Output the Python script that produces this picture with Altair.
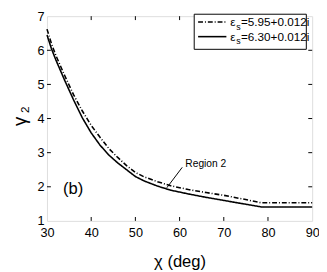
import altair as alt
import pandas as pd

chi = [30, 31, 32, 34, 36, 38, 40, 42, 44, 46, 48, 50, 52, 55, 58, 62, 66, 70, 74, 78.5, 90]
g_solid = [6.45, 6.05, 5.72, 5.12, 4.55, 4.02, 3.58, 3.22, 2.93, 2.70, 2.50, 2.30, 2.17, 2.02, 1.90, 1.79, 1.69, 1.60, 1.51, 1.41, 1.41]
g_dash = [6.62, 6.20, 5.85, 5.26, 4.70, 4.22, 3.80, 3.45, 3.12, 2.86, 2.62, 2.42, 2.29, 2.15, 2.03, 1.92, 1.83, 1.75, 1.65, 1.53, 1.53]
x_ticks = [30, 40, 50, 60, 70, 80, 90]
y_ticks = [1, 2, 3, 4, 5, 6, 7]
series_names = ["5.95+0.012i", "6.30+0.012i"]

FONT = "Liberation Sans"
W, H = 272, 210

rows = []
for c, a, b in zip(chi, g_dash, g_solid):
    rows.append({"chi": c, "g": a, "s": series_names[0]})
    rows.append({"chi": c, "g": b, "s": series_names[1]})
df = pd.DataFrame(rows)

xs = alt.Scale(domain=[30, 90], nice=False, zero=False)
ys = alt.Scale(domain=[1, 7], nice=False, zero=False)
xax = alt.Axis(values=x_ticks, title="χ (deg)", ticks=False, domain=False,
               grid=False, labelFontSize=13, labelFont=FONT, labelColor="black",
               labelPadding=6, labelOverlap=False, titleFont=FONT, titleFontSize=17,
               titleFontWeight="normal", titleColor="black", titlePadding=15,
               labelFlush=False)
yax = alt.Axis(values=y_ticks, title=None, ticks=False, domain=False,
               grid=False, labelFontSize=13, labelFont=FONT, labelColor="black",
               labelPadding=3, labelOverlap=False, labelFlush=False)
XA = dict(scale=xs, axis=xax, title="χ (deg)")
YA = dict(scale=ys, axis=yax, title=None)

lines = alt.Chart(df).mark_line(color="black", strokeWidth=1.6).encode(
    x=alt.X("chi:Q", **XA),
    y=alt.Y("g:Q", **YA),
    strokeDash=alt.StrokeDash("s:N", scale=alt.Scale(domain=series_names, range=[[5, 2, 1, 2], [1, 0]]),
                              legend=None),
    detail="s:N",
)

# inward ticks
xt = pd.DataFrame({"v": x_ticks[1:-1]})
yt = pd.DataFrame({"v": y_ticks[1:-1]})
tb = alt.Chart(xt).mark_rule(color="black", strokeWidth=1).encode(x=alt.X("v:Q", **XA), y=alt.value(H), y2=alt.value(H - 4))
tt = alt.Chart(xt).mark_rule(color="black", strokeWidth=1).encode(x=alt.X("v:Q", **XA), y=alt.value(0), y2=alt.value(4))
tl = alt.Chart(yt).mark_rule(color="black", strokeWidth=1).encode(y=alt.Y("v:Q", **YA), x=alt.value(0), x2=alt.value(4))
tr = alt.Chart(yt).mark_rule(color="black", strokeWidth=1).encode(y=alt.Y("v:Q", **YA), x=alt.value(W), x2=alt.value(W - 4))

# annotations
ann = pd.DataFrame({"chi": [61.3], "g": [2.68], "t": ["Region 2"]})
region = alt.Chart(ann).mark_text(align="left", baseline="middle", font=FONT, fontSize=10.5, color="black").encode(
    x=alt.X("chi:Q", **XA), y=alt.Y("g:Q", **YA), text="t:N")
arr = pd.DataFrame({"x1": [60.6], "y1": [2.57], "x2": [57.1], "y2": [1.97]})
arrow = alt.Chart(arr).mark_rule(color="black", strokeWidth=1).encode(
    x=alt.X("x1:Q", **XA), y=alt.Y("y1:Q", **YA), x2="x2:Q", y2="y2:Q")
lab = pd.DataFrame({"chi": [33.6], "g": [1.93], "t": ["(b)"]})
blab = alt.Chart(lab).mark_text(align="left", baseline="middle", font=FONT, fontSize=17, color="black").encode(
    x=alt.X("chi:Q", **XA), y=alt.Y("g:Q", **YA), text="t:N")

# y title gamma_2 rotated
ytitle = alt.Chart(pd.DataFrame({"t": ["γ"]})).mark_text(angle=270, font=FONT, fontSize=19, color="black",
                                                         align="center", baseline="middle").encode(
    x=alt.value(-28), y=alt.value(108), text="t:N")
ysub = alt.Chart(pd.DataFrame({"t": ["2"]})).mark_text(angle=270, font=FONT, fontSize=12, color="black",
                                                       align="center", baseline="middle").encode(
    x=alt.value(-22), y=alt.value(96), text="t:N")

# legend
box = alt.Chart(pd.DataFrame({"a": [0]})).mark_rect(fill="white", stroke="black", strokeWidth=1).encode(
    x=alt.value(151), x2=alt.value(266), y=alt.value(-2), y2=alt.value(34))
leg_line1 = alt.Chart(pd.DataFrame({"a": [0]})).mark_rule(color="black", strokeWidth=1.6, strokeDash=[5, 2, 1, 2]).encode(
    x=alt.value(155), x2=alt.value(184), y=alt.value(6))
leg_line2 = alt.Chart(pd.DataFrame({"a": [0]})).mark_rule(color="black", strokeWidth=1.6).encode(
    x=alt.value(155), x2=alt.value(184), y=alt.value(21))
eps = alt.Chart(pd.DataFrame({"t": ["ε", "ε"], "yy": [6, 21]})).mark_text(
    align="left", baseline="middle", font=FONT, fontSize=12, color="black").encode(
    x=alt.value(188), y=alt.Y("yy:Q", scale=None), text="t:N")
sub = alt.Chart(pd.DataFrame({"t": ["s", "s"], "yy": [11, 26]})).mark_text(
    align="left", baseline="middle", font=FONT, fontSize=9, color="black").encode(
    x=alt.value(194), y=alt.Y("yy:Q", scale=None), text="t:N")
vals = alt.Chart(pd.DataFrame({"t": ["=" + series_names[0], "=" + series_names[1]], "yy": [6, 21]})).mark_text(
    align="left", baseline="middle", font=FONT, fontSize=12, color="black").encode(
    x=alt.value(199), y=alt.Y("yy:Q", scale=None), text="t:N")

chart = alt.layer(lines, tb, tt, tl, tr, arrow, region, blab, ytitle, ysub,
                  box, leg_line1, leg_line2, eps, sub, vals).properties(
    width=W, height=H,
    autosize=alt.AutoSizeParams(type="none"),
    padding={"left": 40, "top": 5, "right": 7, "bottom": 48},
).configure_view(stroke="black", strokeWidth=2).configure(background="white")

chart.save("out.html", embed_options={"renderer": "svg", "actions": False})
